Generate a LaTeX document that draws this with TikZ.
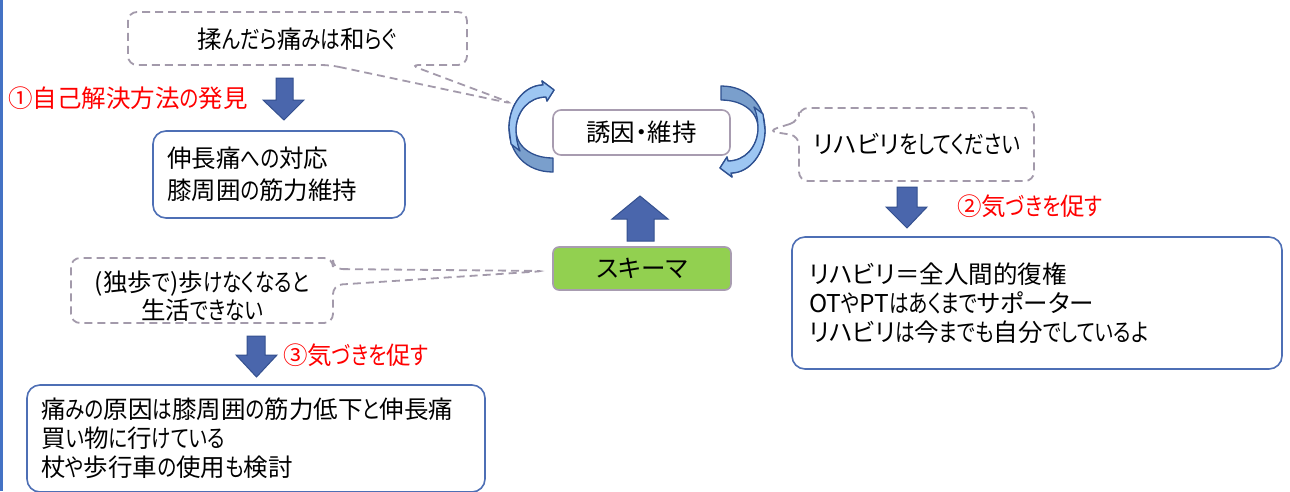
\documentclass[tikz,border=0pt]{standalone}
\usepackage{fontspec}
\newfontfamily\jp{Noto Sans CJK JP}[RawFeature={+palt}]
\newfontfamily\jphira{Noto Sans CJK JP}[RawFeature={+palt}, FakeStretch=0.8]
\newXeTeXintercharclass\hiraclass
\count255="3041
\loop
  \XeTeXcharclass\count255=\hiraclass
  \advance\count255 by 1
\ifnum\count255<"30A0 \repeat
\XeTeXinterchartoks 0 \hiraclass = {\begingroup\jphira}
\XeTeXinterchartoks 4095 \hiraclass = {\begingroup\jphira}
\XeTeXinterchartoks \hiraclass 0 = {\endgroup}
\XeTeXinterchartoks \hiraclass 4095 = {\endgroup}
\newcommand{\jpon}{\XeTeXinterchartokenstate=1\relax}
\definecolor{sideblue}{HTML}{4472C4}
\definecolor{boxblue}{HTML}{4E6FB5}
\definecolor{arrowblue}{HTML}{4A66AC}
\definecolor{arrowline}{HTML}{34508F}
\definecolor{dashgray}{HTML}{A39AAB}
\definecolor{midgray}{HTML}{A89CB0}
\definecolor{schemagreen}{HTML}{92D050}
\definecolor{clight}{HTML}{9DC6F2}
\definecolor{cdark}{HTML}{7A9FCC}
\definecolor{cline}{HTML}{2E5090}
\newcommand{\twistarrow}{%
  \filldraw[fill=cdark, draw=cline, line width=1.3pt, line join=round]
    (553,172) .. controls (525,172) and (509,152) .. (509,128)
    .. controls (509,104) and (525,85) .. (543,85) -- (542,81) -- (554,90) -- (547,101) -- (546,97)
    .. controls (529,97) and (517,111) .. (516,128)
    .. controls (515,145) and (530,158) .. (553,158) -- cycle;
  \filldraw[fill=clight, draw=cline, line width=1.3pt, line join=round]
    (511,144) -- (509,128)
    .. controls (509,104) and (525,85) .. (543,85) -- (542,81) -- (554,90) -- (547,101) -- (546,97)
    .. controls (529,97) and (517,111) .. (516,128)
    .. controls (516,137) and (517,144) .. (520,151) -- cycle;
}
\begin{document}
\begin{tikzpicture}[x=1pt, y=-1pt,
  font={\jp\jpon\fontsize{24.5}{29}\selectfont},
  solidbox/.style={draw=boxblue, line width=1.6pt, rounded corners=13pt, fill=white, align=left, inner xsep=14pt, inner ysep=0pt},
  dashline/.style={draw=dashgray, line width=1.8pt, dash pattern=on 8pt off 5pt, rounded corners=9pt},
  redlabel/.style={text=red, anchor=west, inner sep=0pt},
  blockarrow/.style={fill=arrowblue, draw=arrowline, line width=1pt, line join=miter},
  plain/.style={inner sep=0pt}
]
\useasboundingbox (0,0) rectangle (1290,491);
\fill[white] (0,0) rectangle (1290,491);
\fill[sideblue] (0,0) rectangle (3,491);

% callout outlines
\coordinate (t1) at (514,104);
\coordinate (t2) at (768,131);
\coordinate (t3) at (545,271);
\draw[dashline] (330,65) -- (t1) -- (410,65) -- (467,65) -- (467,12) -- (128,12) -- (128,65) -- cycle;
\draw[dashline] (799,121) -- (t2) -- (799,136) -- (799,181) -- (1034,181) -- (1034,108) -- (799,108) -- cycle;
\draw[dashline] (333,269) -- (t3) -- (333,285) -- (333,323) -- (71,323) -- (71,258) -- (333,258) -- cycle;

% callout texts
\node[plain] (c1) at (297,39) {揉んだら痛みは和らぐ};
\node[plain] (c2) at (917,144) {リハビリをしてください};
\node[plain, align=center, font={\jp\jpon\fontsize{24.5}{28}\selectfont}] (c3) at (202,296) {(独歩で)歩けなくなると\\生活できない};

% central boxes
\node[draw=midgray, line width=1.6pt, rounded corners=8pt, fill=white, minimum width=177pt, minimum height=45pt, inner sep=0pt] (cause) at (641.5,132.5) {誘因・維持};
\node[draw=midgray, line width=1.6pt, rounded corners=6pt, fill=schemagreen, minimum width=178pt, minimum height=43pt, inner sep=0pt] (schema) at (642,268.5) {スキーマ};

% curved arrows
\begin{scope}
\twistarrow
\end{scope}
\begin{scope}[rotate around={180:(637,129)}]
\twistarrow
\end{scope}

% solid boxes
\node[solidbox, text width=224pt, minimum height=87pt, font={\jp\jpon\fontsize{24.5}{32}\selectfont}] (b1) at (279,174.5) {伸長痛への対応\\膝周囲の筋力維持};
\node[solidbox, text width=456pt, minimum height=132pt, inner xsep=17pt] (b2) at (1037,303) {リハビリ＝全人間的復権\\OTやPTはあくまでサポーター\\リハビリは今までも自分でしているよ};
\node[solidbox, text width=430pt, minimum height=107pt] (b3) at (256,438.5) {痛みの原因は膝周囲の筋力低下と伸長痛\\買い物に行けている\\杖や歩行車の使用も検討};

% block arrows
\draw[blockarrow] (276,78) -- (293,78) -- (293,100) -- (304,100) -- (284,120) -- (263,100) -- (276,100) -- cycle;
\draw[blockarrow] (897,187) -- (917,187) -- (917,207) -- (927,207) -- (907,228) -- (886,207) -- (897,207) -- cycle;
\draw[blockarrow] (247,336) -- (265,336) -- (265,355) -- (277,355) -- (256.5,377) -- (236,355) -- (247,355) -- cycle;
\draw[blockarrow] (627,241) -- (654,241) -- (654,219) -- (668,219) -- (640,196) -- (612,219) -- (627,219) -- cycle;

% red labels
\node[redlabel] (l1) at (8,98) {①自己解決方法の発見};
\node[redlabel] (l2) at (957,206) {②気づきを促す};
\node[redlabel] (l3) at (283,355) {③気づきを促す};
\end{tikzpicture}
\end{document}
